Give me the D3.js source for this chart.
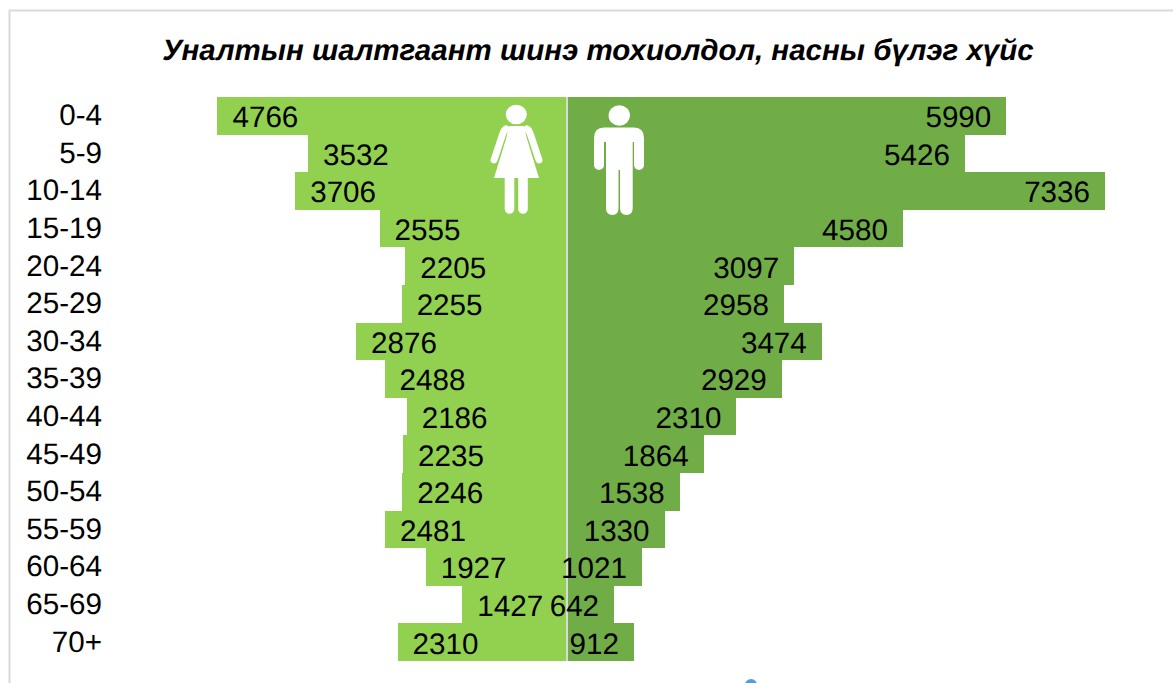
<!DOCTYPE html>
<html>
  <head>
    <meta charset="UTF-8" />
    <style>
      body {
        margin: 0;
        background-color: #fff;
      }
      svg {
        display: block;
      }
      text {
        font-family: "Liberation Sans", Arial, sans-serif;
        fill: #000;
        text-rendering: geometricPrecision;
      }
      rect {
        shape-rendering: crispEdges;
      }
      .title {
        font-size: 29.5px;
        font-weight: bold;
        font-style: italic;
      }
      .val,
      .tick text {
        font-size: 29.6px;
      }
    </style>
  </head>

  <body>
    <svg id="chart" width="1173" height="683"></svg>

    <script src="https://d3js.org/d3.v7.min.js"></script>
    <script>
      const ages = ["0-4", "5-9", "10-14", "15-19", "20-24", "25-29", "30-34", "35-39", "40-44", "45-49", "50-54", "55-59", "60-64", "65-69", "70+"];
      const female = [4766, 3532, 3706, 2555, 2205, 2255, 2876, 2488, 2186, 2235, 2246, 2481, 1927, 1427, 2310];
      const male = [5990, 5426, 7336, 4580, 3097, 2958, 3474, 2929, 2310, 1864, 1538, 1330, 1021, 642, 912];
      const titleText = "Уналтын шалтгаант шинэ тохиолдол, насны бүлэг хүйс";

      const svg = d3.select("#chart");
      const center = 567;

      // chart frame, runs off the right and bottom of the picture
      svg.append("path")
        .attr("d", "M1173,10.5H9.5V683")
        .attr("fill", "none")
        .attr("stroke", "#d9d9d9")
        .attr("stroke-width", 2);

      // bit of the next object peeking in at the bottom
      svg.append("circle")
        .attr("cx", 751).attr("cy", 685).attr("r", 6)
        .attr("fill", "#5b9bd5");

      svg.append("text")
        .attr("class", "title")
        .attr("x", 598)
        .attr("y", 60)
        .attr("text-anchor", "middle")
        .text(titleText);

      const y = d3.scaleBand().domain(ages).range([97, 661]).padding(0);
      const w = d3.scaleLinear().domain([0, 7336]).range([0, 538]);

      const xF = (v) => center - w(v);
      const xM = (v) => center + w(v);

      svg.selectAll(".f")
        .data(female)
        .enter()
        .append("rect")
        .attr("class", "f")
        .attr("x", (d) => xF(d))
        .attr("y", (d, i) => y(ages[i]))
        .attr("width", (d) => w(d))
        .attr("height", y.bandwidth())
        .attr("fill", "#92d050");

      svg.selectAll(".m")
        .data(male)
        .enter()
        .append("rect")
        .attr("class", "m")
        .attr("x", center)
        .attr("y", (d, i) => y(ages[i]))
        .attr("width", (d) => w(d))
        .attr("height", y.bandwidth())
        .attr("fill", "#70ad47");

      svg.append("line")
        .attr("x1", center).attr("x2", center)
        .attr("y1", 97).attr("y2", 661)
        .attr("stroke", "#d9d9d9")
        .attr("stroke-width", 2);

      const yAxis = svg.append("g")
        .attr("transform", "translate(102,0)")
        .call(d3.axisLeft(y).tickSize(0).tickPadding(0));
      yAxis.select(".domain").remove();
      yAxis.attr("font-family", null).attr("font-size", null);

      svg.selectAll(".fv")
        .data(female)
        .enter()
        .append("text")
        .attr("class", "val fv")
        .attr("x", (d) => xF(d) + 15)
        .attr("y", (d, i) => y(ages[i]) + y.bandwidth() / 2 + 1)
        .attr("dy", "0.35em")
        .text((d) => d);

      svg.selectAll(".mv")
        .data(male)
        .enter()
        .append("text")
        .attr("class", "val mv")
        .attr("x", (d) => xM(d) - 15)
        .attr("y", (d, i) => y(ages[i]) + y.bandwidth() / 2 + 1)
        .attr("dy", "0.35em")
        .attr("text-anchor", "end")
        .text((d) => d);

      // woman icon
      const woman = svg.append("g").attr("fill", "#fff").attr("stroke", "none");
      woman.append("ellipse").attr("cx", 516.3).attr("cy", 114.5).attr("rx", 10.5).attr("ry", 9.8);
      woman.append("path").attr("d", "M509,126 H524 L527,139 L539,178 H494 L506,139Z");
      woman.append("path")
        .attr("d", "M506,129 Q504,130 503,133 L494,160 M527,129 Q529,130 530,133 L539,160")
        .attr("fill", "none")
        .attr("stroke", "#fff")
        .attr("stroke-width", 7)
        .attr("stroke-linecap", "round");
      woman.append("path")
        .attr("d", "M509.5,170 V209 M523,170 V209")
        .attr("fill", "none")
        .attr("stroke", "#fff")
        .attr("stroke-width", 9.6)
        .attr("stroke-linecap", "round");

      // man icon
      const man = svg.append("g").attr("fill", "#fff");
      man.append("ellipse").attr("cx", 619.3).attr("cy", 115.5).attr("rx", 10.7).attr("ry", 10.2);
      man.append("path").attr("d", "M604,127.5 H634 Q644,127.5 644,138 V142 H632.7 V208 Q632.7,215 626.5,215 Q620,215 620,208 V170 H618.5 V208 Q618.5,215 612.5,215 Q606,215 606,208 V142 H594 V138 Q594,127.5 604,127.5Z");
      man.append("path")
        .attr("d", "M599,140 V165 M639,140 V165")
        .attr("fill", "none")
        .attr("stroke", "#fff")
        .attr("stroke-width", 10)
        .attr("stroke-linecap", "round");
    </script>
  </body>
</html>
